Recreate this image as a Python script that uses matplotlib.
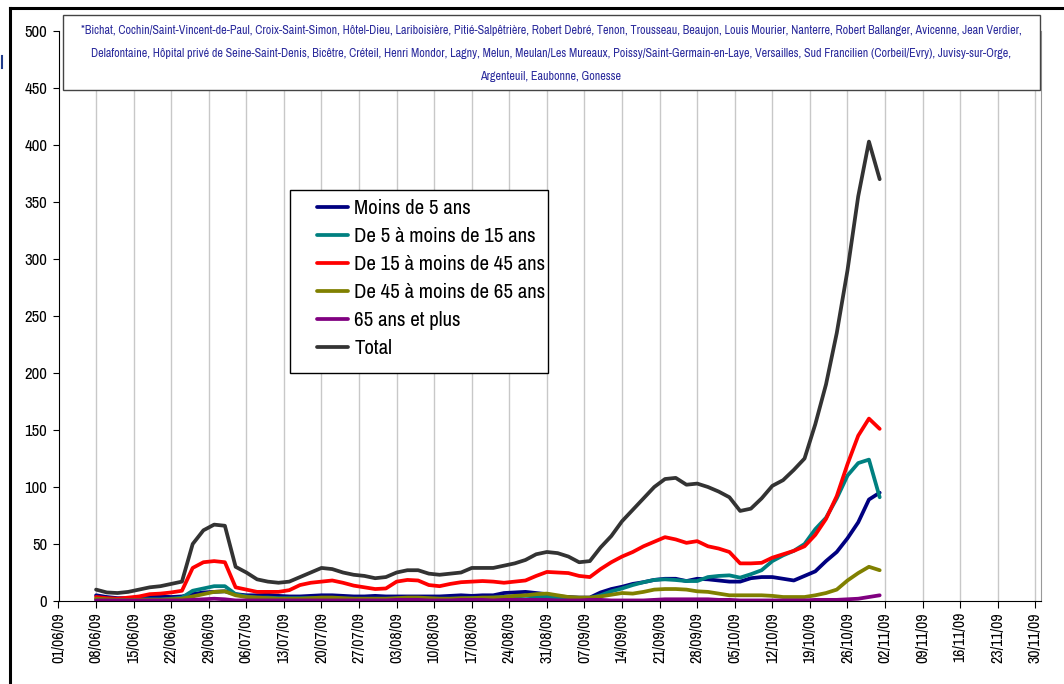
import pandas as pd
import matplotlib
matplotlib.use("Agg")
import matplotlib.pyplot as plt
import matplotlib.dates as mdates
from matplotlib.patches import Rectangle
from matplotlib.lines import Line2D

# the original uses Arial Narrow
plt.rcParams['font.family'] = ['Liberation Sans Narrow', 'Archivo Narrow', 'Liberation Sans', 'DejaVu Sans']

# one value every 2 days, 08/06/09 -> 01/11/09
dates = pd.date_range("2009-06-08", periods=74, freq="2D")

moins_5 = [5, 3.5, 2.5, 2.5, 3, 3.5, 4, 3.5, 4, 6, 7.5, 8, 8.5, 6, 5, 5, 5.5, 4.5, 4, 4,
           4.5, 5, 5, 4.5, 4, 4, 4.5, 4, 4, 4, 4, 4, 4, 4.5, 5, 4.5, 5, 5, 7, 7.5,
           8, 7, 6, 4, 3.5, 3, 3, 7.5, 10.5, 12.5, 15, 16.5, 18.5, 19.5, 19.5, 17.5, 19.5, 19, 18, 17,
           17, 20, 21, 21, 19.5, 18, 22, 26, 35, 43, 55, 69, 89, 95]
de_5_15 = [1.5, 1, 1, 1, 1.5, 1.5, 1.5, 2, 3, 9, 11, 13, 13, 6, 4, 3, 3, 2.5, 2.5, 2.5,
           2.5, 2.5, 2.5, 2, 2, 2, 2, 2, 2, 2, 2, 2, 2, 2, 2, 2.5, 2.5, 3, 3.5, 4,
           4.5, 4, 3.5, 3, 2.6, 2.6, 2.6, 5, 8.5, 11, 14, 16.5, 18.5, 19, 18.4, 17.5, 17.5, 21, 22, 22.5,
           20.5, 23.5, 27, 35, 40, 44, 50, 63, 73, 90, 110, 121, 124, 91]
de_15_45 = [3.5, 2.5, 2, 3, 4, 6, 6.5, 7.5, 9, 29, 34, 35, 34, 12, 10, 8, 8, 8, 9.5, 14,
            16, 17, 18, 16, 13.5, 12, 10.5, 11, 17, 18.5, 18, 14, 13, 15, 16.5, 17, 17.5, 17, 16, 17,
            18, 22, 25.5, 25, 24.5, 22, 21, 28, 34, 39, 43, 48, 52, 56, 54, 51, 52.5, 48, 46, 43,
            33, 33, 33.5, 38, 41, 44, 48, 58, 72, 92, 120, 145, 160, 151]
de_45_65 = [2, 1.5, 1, 1, 1, 1, 1, 1.5, 2, 4, 6, 8, 8.5, 5, 3.5, 3, 2.5, 2, 2, 2,
            2.5, 3, 3, 2.5, 2, 2, 2, 2, 2.5, 3, 3, 2.5, 2, 2, 2.5, 2.5, 3, 3, 3.5, 4.5,
            5, 6, 6.5, 5, 3.5, 3, 3, 4, 5.5, 7, 6.5, 8, 10, 10.5, 10.5, 10, 8.5, 8, 6.5, 5,
            5, 5, 5, 4.5, 3.5, 3.5, 3.5, 5, 7, 10, 18, 24.5, 30, 27]
plus_65 = [0.5, 0.5, 0.5, 0.5, 0.5, 0.5, 0.5, 0.5, 0.5, 1, 1.5, 2, 1.5, 0.5, 0.5, 0.5, 0.5, 0.5, 0.5, 0.5,
           0.5, 0.5, 0.5, 0.5, 0.5, 0.5, 0.5, 0.5, 1, 1, 1, 0.5, 0.5, 0.5, 1, 1, 1, 0.5, 1, 1,
           1, 1, 1, 0.5, 0.5, 0.5, 1, 1, 0.5, 0.5, 0.5, 0.5, 1, 1.5, 1.5, 1.5, 1.5, 1.5, 1, 1,
           0.5, 0.5, 0.5, 0.5, 0.5, 0.5, 0.5, 1, 1, 1, 1.5, 2, 3.5, 5]
total = [10, 7.5, 7, 8, 10, 12, 13, 15, 17, 50, 62, 67, 66, 30, 25, 19, 17, 16, 17, 21,
         25, 29, 28, 25, 23, 22, 20, 21, 25, 27, 27, 24, 23, 24, 25, 29, 29, 29, 31, 33,
         36, 41, 43, 42, 39, 34, 35, 47, 57, 70, 80, 90, 100, 107, 108, 102, 103, 100, 96, 91,
         79, 81, 90, 101, 106, 115, 125, 155, 190, 235, 290, 355, 403, 370]

series = [
    ("Moins de 5 ans", moins_5, "#000080"),
    ("De 5 à moins de 15 ans", de_5_15, "#008080"),
    ("De 15 à moins de 45 ans", de_15_45, "#ff0000"),
    ("De 45 à moins de 65 ans", de_45_65, "#808000"),
    ("65 ans et plus", plus_65, "#800080"),
    ("Total", total, "#333333"),
]

hopitaux = [
    "*Bichat, Cochin/Saint-Vincent-de-Paul, Croix-Saint-Simon, Hôtel-Dieu, Lariboisière, Pitié-Salpêtrière, Robert Debré, Tenon, Trousseau, Beaujon, Louis Mourier, Nanterre, Robert Ballanger, Avicenne, Jean Verdier,",
    "Delafontaine, Hôpital privé de Seine-Saint-Denis, Bicêtre, Créteil, Henri Mondor, Lagny, Melun, Meulan/Les Mureaux, Poissy/Saint-Germain-en-Laye, Versailles, Sud Francilien (Corbeil/Evry), Juvisy-sur-Orge,",
    "Argenteuil, Eaubonne, Gonesse",
]

W, H = 1064, 684
fig = plt.figure(figsize=(W / 100, H / 100), dpi=100)
ax = fig.add_axes([58.5 / W, 1 - 601 / H, (1040.7 - 58.5) / W, 570 / H])

for label, vals, col in series:
    ax.plot(dates, vals, color=col, lw=2.7, label=label, solid_capstyle='round')

ax.set_ylim(0, 500)
ax.set_yticks(range(0, 501, 50))
ax.set_xlim(pd.Timestamp("2009-06-01"), pd.Timestamp("2009-12-01"))
ax.set_xticks(pd.date_range("2009-06-01", "2009-11-30", freq="7D"))
ax.xaxis.set_major_formatter(mdates.DateFormatter("%d/%m/%y"))
ax.tick_params(axis='x', labelrotation=90, labelsize=11.5, direction='out', length=5, pad=3)
ax.tick_params(axis='y', labelsize=12, direction='out', length=4, pad=4)
ax.grid(axis='x', color='#c8c8c8', lw=1)
ax.set_axisbelow(True)
ax.spines['top'].set_visible(False)
ax.spines['right'].set_color('#999999')

# legend box
fig.add_artist(Rectangle((290 / W, 1 - 373 / H), 258 / W, 183 / H, transform=fig.transFigure,
                         facecolor='white', edgecolor='black', lw=1, zorder=2))
leg = fig.legend(loc='upper left', bbox_to_anchor=(317 / W, 1 - 199 / H), frameon=False,
                 fontsize=15, handlelength=1.5, handletextpad=0.3, labelspacing=0.43,
                 borderpad=0, borderaxespad=0)
leg.set_zorder(3)

# hospitals box
fig.add_artist(Rectangle((63 / W, 1 - 90 / H), 977 / W, 75 / H, transform=fig.transFigure,
                         facecolor='white', edgecolor='#444444', lw=1, zorder=2))
txts = [fig.text(551 / W, 1 - (31 + 22.5 * i) / H, line, ha='center', va='center',
                 fontsize=10.8, color='#2a2a9c', zorder=3)
        for i, line in enumerate(hopitaux)]
# shrink the hospital list until its widest line fits the box
renderer = fig.canvas.get_renderer()
size = 10.8
while max(t.get_window_extent(renderer).width for t in txts) > 955 and size > 5:
    size -= 0.1
    for t in txts:
        t.set_fontsize(size)

# outer frame and small mark at left
fig.add_artist(Line2D([10 / W, 10 / W], [0, 1 - 8 / H], color='black', lw=2.2))
fig.add_artist(Line2D([10 / W, 1], [1 - 8 / H, 1 - 8 / H], color='black', lw=2.2))
fig.add_artist(Line2D([2 / W, 2 / W], [1 - 56 / H, 1 - 68 / H], color='#1f3a8a', lw=1.5))

fig.savefig("out.png", dpi=100)
